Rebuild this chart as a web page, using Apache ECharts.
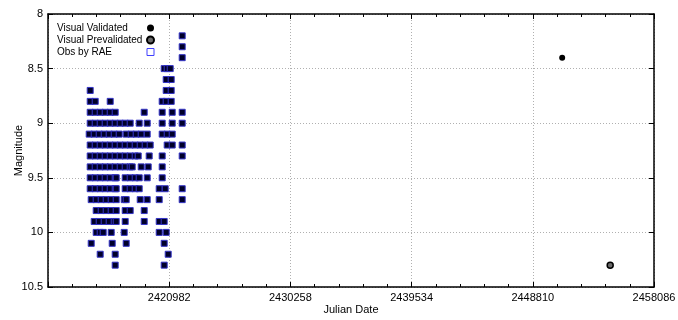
<!DOCTYPE html>
<html>
<head>
<meta charset="utf-8">
<script src="https://cdn.jsdelivr.net/npm/echarts/dist/echarts.min.js"></script>
<style>
  html, body { margin: 0; padding: 0; background: #fff; }
  #main { width: 678px; height: 320px; }
</style>
</head>
<body>
<div id="main"></div>
<script>
// axis range (Julian Date) and ticks
const jdMin = 2411706;
const jdMax = 2458086;
const jdStep = 9276;
const magMin = 8;
const magMax = 10.5;

const raeMags = [8.2, 8.3, 8.4, 8.5, 8.6, 8.7, 8.8, 8.9, 9.0, 9.1, 9.2,
  9.3, 9.4, 9.5, 9.6, 9.7, 9.8, 9.9, 10.0, 10.1, 10.2, 10.3];
const raeDates = [
  [2421977],
  [2421977],
  [2421977],
  [2420599, 2420829, 2421059],
  [2420752, 2421135],
  [2414936, 2420752, 2421135],
  [2414936, 2415319, 2416467, 2420446, 2420752, 2421135],
  [2414936, 2415319, 2415701, 2416084, 2416467, 2416849, 2419069, 2420446, 2421212, 2421977],
  [2414936, 2415319, 2415701, 2416084, 2416467, 2416849, 2417232, 2417615, 2417997, 2418686, 2419298, 2420446, 2421212, 2421977],
  [2414860, 2415242, 2415625, 2416008, 2416390, 2416773, 2417156, 2417691, 2418074, 2418456, 2418839, 2419298, 2420446, 2420829, 2421212],
  [2414936, 2415319, 2415701, 2416084, 2416467, 2416849, 2417232, 2417615, 2417997, 2418380, 2418763, 2419145, 2419528, 2420829, 2421212, 2421977],
  [2414936, 2415319, 2415701, 2416084, 2416467, 2416849, 2417232, 2417615, 2417997, 2418380, 2418610, 2419451, 2420446, 2421977],
  [2414936, 2415319, 2415701, 2416084, 2416467, 2416849, 2417232, 2417615, 2417997, 2418150, 2418839, 2419375, 2420446],
  [2414936, 2415319, 2415701, 2416084, 2416467, 2416849, 2416926, 2417615, 2417997, 2418380, 2418686, 2419298, 2420446],
  [2414936, 2415319, 2415701, 2416084, 2416467, 2416849, 2416926, 2417615, 2417997, 2418380, 2418686, 2420217, 2420676, 2421977],
  [2415013, 2415395, 2415778, 2416161, 2416543, 2416926, 2417538, 2417691, 2418763, 2419298, 2420217, 2421977],
  [2415395, 2415778, 2416161, 2416543, 2416926, 2417615, 2417997, 2419069],
  [2415242, 2415625, 2416008, 2416390, 2416773, 2416926, 2417615, 2419069, 2420217, 2420599],
  [2415395, 2415701, 2415931, 2416543, 2417538, 2420217, 2420752],
  [2415013, 2416620, 2417691, 2420599],
  [2415701, 2416849, 2420905],
  [2416849, 2420599]
];

const validatedDates = [2451058];
const validatedMags = [8.4];
const prevalidatedDates = [2454732];
const prevalidatedMags = [10.3];

// x values are plotted relative to jdMin so the ticks start at jdMin
const rae = raeDates.flatMap((row, i) => row.map(jd => [jd - jdMin, raeMags[i]]));
const validated = validatedDates.map((jd, i) => [jd - jdMin, validatedMags[i]]);
const prevalidated = prevalidatedDates.map((jd, i) => [jd - jdMin, prevalidatedMags[i]]);

const font = "'Liberation Sans', Arial, sans-serif";
const black = "#000";

const chart = echarts.init(document.getElementById("main"), null, { renderer: "canvas" });

const xBase = {
  type: "value",
  min: 0,
  max: jdMax - jdMin,
  interval: jdStep,
  axisLine: { show: true, onZero: false, lineStyle: { color: black, width: 1.5 } },
  axisTick: { show: true, inside: true, length: 5, lineStyle: { color: black } },
  minorTick: { show: true, splitNumber: 5, length: 3, lineStyle: { color: black } },
};
const yBase = {
  type: "value",
  inverse: true,
  min: magMin,
  max: magMax,
  interval: 0.5,
  axisLine: { show: true, onZero: false, lineStyle: { color: black, width: 1.5 } },
  axisTick: { show: true, inside: true, length: 5, lineStyle: { color: black } },
};

const option = {
  backgroundColor: "#fff",
  animation: false,
  textStyle: { fontFamily: font },
  grid: { left: 48, right: 24, top: 14, bottom: 33, outerBoundsMode: "none", containLabel: false },
  legend: {
    orient: "vertical",
    left: 57,
    top: 22,
    padding: 0,
    align: "right",
    itemWidth: 7,
    itemHeight: 7,
    itemGap: 0,
    formatter: (name) => "{t|" + name + "}",
    textStyle: {
      fontFamily: font, fontSize: 10, color: black, lineHeight: 12,
      rich: { t: { fontFamily: font, fontSize: 10, color: black, width: 85, align: "left", lineHeight: 12 } },
    },
    data: [
      { name: "Visual Validated", icon: "circle" },
      { name: "Visual Prevalidated", icon: "circle" },
      { name: "Obs by RAE", icon: "rect", itemStyle: { color: "#fff", borderColor: "#4040ff", borderWidth: 1 } },
    ],
  },
  xAxis: [
    Object.assign({}, xBase, {
      position: "bottom",
      name: "Julian Date",
      nameLocation: "middle",
      nameGap: 17,
      nameMoveOverlap: false,
      nameTextStyle: { fontFamily: font, fontSize: 11, color: black },
      axisLabel: {
        fontFamily: font, fontSize: 11, color: black, margin: 5,
        showMinLabel: false,
        formatter: (v) => (v === 0 ? "" : String(v + jdMin)),
      },
      splitLine: { show: true, lineStyle: { color: "#b0b0b0", type: [1, 2], width: 1 } },
    }),
    Object.assign({}, xBase, {
      position: "top",
      axisLabel: { show: false },
      splitLine: { show: false },
    }),
  ],
  yAxis: [
    Object.assign({}, yBase, {
      position: "left",
      name: "Magnitude",
      nameLocation: "middle",
      nameGap: 24,
      nameMoveOverlap: false,
      nameTextStyle: { fontFamily: font, fontSize: 11, color: black },
      axisLabel: { fontFamily: font, fontSize: 11, color: black, margin: 5 },
      splitLine: { show: true, lineStyle: { color: "#b0b0b0", type: [1, 2], width: 1 } },
    }),
    Object.assign({}, yBase, {
      position: "right",
      axisLabel: { show: false },
      splitLine: { show: false },
    }),
  ],
  series: [
    {
      name: "Obs by RAE",
      type: "scatter",
      symbol: "rect",
      symbolSize: 6,
      data: rae,
      itemStyle: { color: "#00002a", borderColor: "#3535c8", borderWidth: 1, opacity: 1 },
    },
    {
      name: "Visual Validated",
      type: "scatter",
      symbol: "circle",
      symbolSize: 6,
      data: validated,
      itemStyle: { color: black, opacity: 1 },
    },
    {
      name: "Visual Prevalidated",
      type: "scatter",
      symbol: "circle",
      symbolSize: 6,
      data: prevalidated,
      itemStyle: { color: "#6a6a6a", borderColor: black, borderWidth: 1.5, opacity: 1 },
    },
  ],
};

chart.setOption(option);
</script>
</body>
</html>
